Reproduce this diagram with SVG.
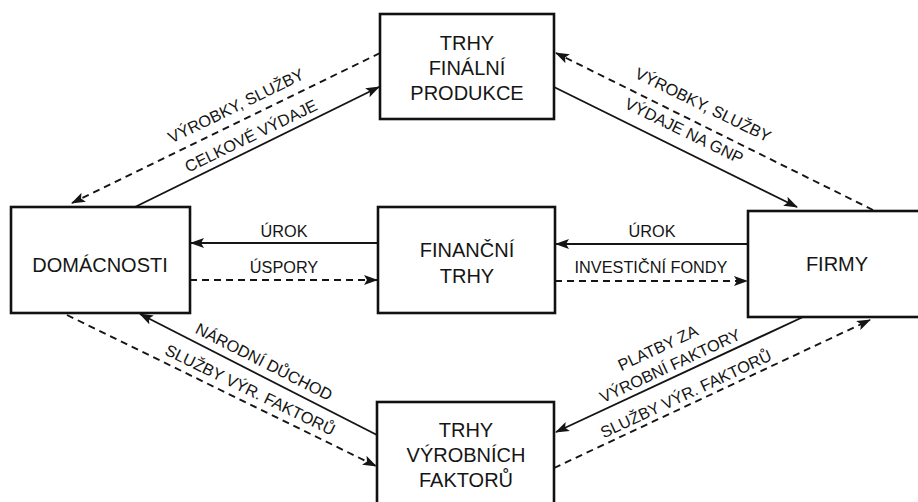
<svg xmlns="http://www.w3.org/2000/svg" width="918" height="502" viewBox="0 0 918 502">
  <style>
    .box { fill: #ffffff; stroke: #111111; stroke-width: 2.6; }
    .node { font-family: "Liberation Sans", Arial, sans-serif; font-size: 20px; fill: #151515; text-anchor: middle; }
    .lbl { font-family: "Liberation Sans", Arial, sans-serif; font-size: 16.3px; fill: #151515; text-anchor: middle; }
    .solid { stroke: #151515; stroke-width: 1.9; fill: none; marker-end: url(#arrow); }
    .dash { stroke: #151515; stroke-width: 1.9; fill: none; stroke-dasharray: 7 5; marker-end: url(#arrow); }
  </style>
  <defs>
    <marker id="arrow" viewBox="0 0 14 10" refX="13" refY="5" markerWidth="14" markerHeight="10" markerUnits="userSpaceOnUse" orient="auto">
      <path d="M0,0 L14,5 L0,10 L3,5 Z" fill="#151515"/>
    </marker>
  </defs>
  <rect width="918" height="502" fill="#ffffff"/>

  <g id="connectors">
    <!-- top-left pair -->
    <line class="dash" x1="380" y1="53" x2="72" y2="203"/>
    <line class="solid" x1="135" y1="207" x2="379" y2="87"/>
    <!-- top-right pair -->
    <line class="dash" x1="873" y1="210" x2="556" y2="53"/>
    <line class="solid" x1="554" y1="87" x2="797" y2="207"/>
    <!-- middle left -->
    <line class="solid" x1="378" y1="243" x2="191" y2="243"/>
    <line class="dash" x1="190" y1="280" x2="377" y2="280"/>
    <!-- middle right -->
    <line class="solid" x1="748" y1="244" x2="556" y2="244"/>
    <line class="dash" x1="555" y1="281" x2="747" y2="281"/>
    <!-- bottom-left pair -->
    <line class="solid" x1="377" y1="435" x2="140" y2="314"/>
    <line class="dash" x1="67" y1="315" x2="376" y2="466"/>
    <!-- bottom-right pair -->
    <line class="solid" x1="803" y1="317" x2="556" y2="432"/>
    <line class="dash" x1="554" y1="468" x2="870" y2="320"/>

    <!-- flow labels (rotated ones are centred on their anchor point) -->
    <text class="lbl" y="5.5" transform="translate(236,106) rotate(-26)">VÝROBKY, SLUŽBY</text>
    <text class="lbl" y="5.5" transform="translate(251,136) rotate(-26)">CELKOVÉ VÝDAJE</text>
    <text class="lbl" y="5.5" transform="translate(703,105) rotate(26)">VÝROBKY, SLUŽBY</text>
    <text class="lbl" y="5.5" transform="translate(684,131) rotate(26)">VÝDAJE NA GNP</text>
    <text class="lbl" x="284" y="237">ÚROK</text>
    <text class="lbl" x="284" y="273">ÚSPORY</text>
    <text class="lbl" x="652" y="237">ÚROK</text>
    <text class="lbl" x="651" y="273">INVESTIČNÍ FONDY</text>
    <text class="lbl" y="5.5" transform="translate(264,362) rotate(27)">NÁRODNÍ DŮCHOD</text>
    <text class="lbl" y="5.5" transform="translate(250,390) rotate(26)">SLUŽBY VÝR. FAKTORŮ</text>
    <text class="lbl" y="5.5" transform="translate(658,348) rotate(-25)">PLATBY ZA</text>
    <text class="lbl" y="5.5" transform="translate(670,366) rotate(-25)">VÝROBNÍ FAKTORY</text>
    <text class="lbl" y="5.5" transform="translate(686,394) rotate(-25)">SLUŽBY VÝR. FAKTORŮ</text>
  </g>

  <g id="trhy-finalni-produkce">
    <rect class="box" x="380" y="14" width="174" height="105"/>
    <text class="node" x="467" y="50">TRHY</text>
    <text class="node" x="467" y="75">FINÁLNÍ</text>
    <text class="node" x="467" y="100">PRODUKCE</text>
  </g>

  <g id="domacnosti">
    <rect class="box" x="11" y="207" width="179" height="106"/>
    <text class="node" x="100" y="272">DOMÁCNOSTI</text>
  </g>

  <g id="financni-trhy">
    <rect class="box" x="378" y="207" width="177" height="106"/>
    <text class="node" x="467" y="257">FINANČNÍ</text>
    <text class="node" x="467" y="283">TRHY</text>
  </g>

  <g id="firmy">
    <rect class="box" x="748" y="211" width="190" height="106"/>
    <text class="node" x="837" y="271">FIRMY</text>
  </g>

  <g id="trhy-vyrobnich-faktoru">
    <rect class="box" x="377" y="402" width="177" height="110"/>
    <text class="node" x="466" y="437">TRHY</text>
    <text class="node" x="466" y="462">VÝROBNÍCH</text>
    <text class="node" x="466" y="487">FAKTORŮ</text>
  </g>
</svg>
